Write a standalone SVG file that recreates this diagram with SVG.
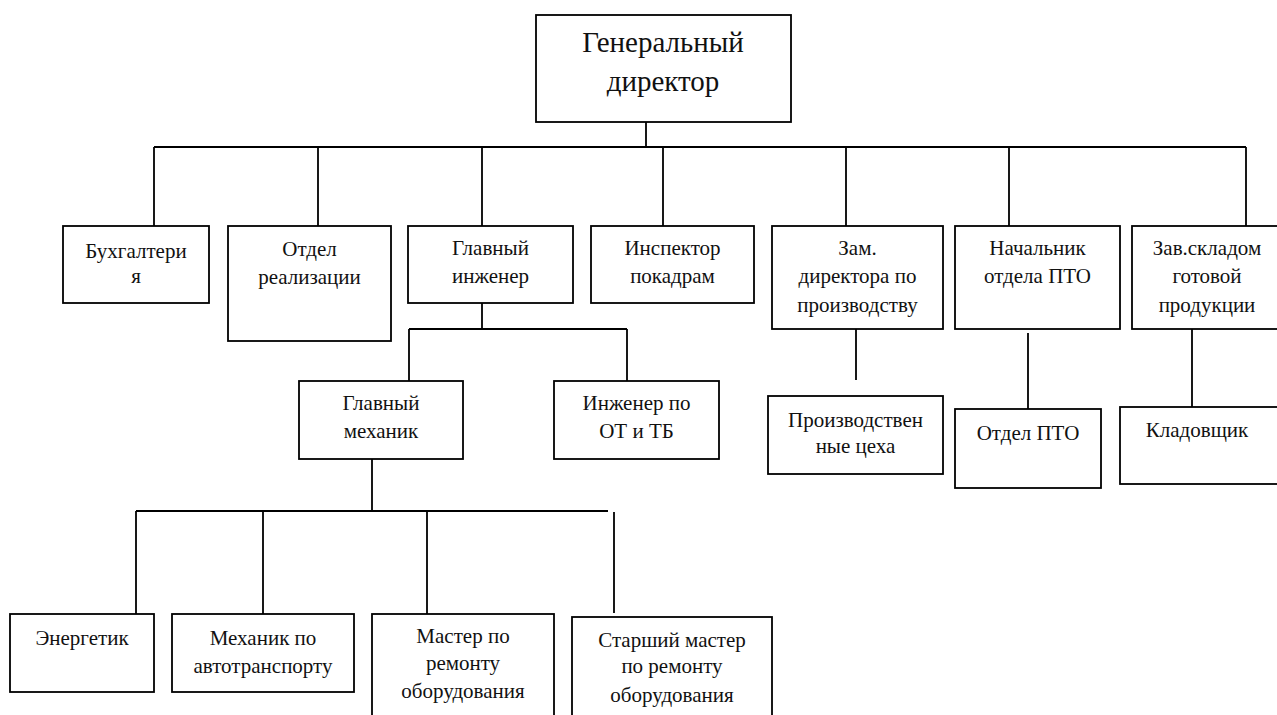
<svg xmlns="http://www.w3.org/2000/svg" width="1277" height="715" viewBox="0 0 1277 715">
<style>
.box{fill:#fff;stroke:#000;stroke-width:1.8}
.ln{stroke:#000;stroke-width:1.8;fill:none}
text{font-family:"Liberation Serif","DejaVu Serif",serif;font-size:21px;fill:#111;text-anchor:middle}
.big{font-size:29px}
</style>
<rect width="1277" height="715" fill="#fff"/>
<g id="connectors">
<path class="ln" d="M646 122V147M154 147H1246M154 147V226M318 147V226M482 147V226M663 147V226M846 147V226M1009 147V226M1246 147V226"/>
<path class="ln" d="M856 329V380M1028 333V409M1192 329V407"/>
<path class="ln" d="M482 303V329M409 329H627M409 329V381M627 329V381"/>
<path class="ln" d="M372 459V511M136 511H608M136 511V614M263 511V614M427 511V614M614 512V613"/>
</g>
<g id="gen-director"><rect class="box" x="536" y="15" width="255" height="107"/><text class="big" x="663" y="52">Генеральный</text><text class="big" x="663" y="91">директор</text></g>
<g id="buh"><rect class="box" x="63" y="226" width="146" height="77"/><text x="136" y="258">Бухгалтери</text><text x="136" y="283">я</text></g>
<g id="otdel-real"><rect class="box" x="228" y="226" width="163" height="115"/><text x="309.5" y="256">Отдел</text><text x="309.5" y="284">реализации</text></g>
<g id="gl-inzh"><rect class="box" x="408" y="226" width="165" height="77"/><text x="490.5" y="255">Главный</text><text x="490.5" y="283">инженер</text></g>
<g id="inspektor"><rect class="box" x="591" y="226" width="163" height="77"/><text x="672.5" y="255">Инспектор</text><text x="672.5" y="283">покадрам</text></g>
<g id="zam-dir"><rect class="box" x="772" y="226" width="171" height="103"/><text x="857.5" y="255">Зам.</text><text x="857.5" y="283">директора по</text><text x="857.5" y="312">производству</text></g>
<g id="nach-pto"><rect class="box" x="955" y="226" width="165" height="103"/><text x="1037.5" y="255">Начальник</text><text x="1037.5" y="283">отдела ПТО</text></g>
<g id="zav-sklad"><rect class="box" x="1132" y="226" width="150" height="103"/><text x="1207" y="255">Зав.складом</text><text x="1207" y="283">готовой</text><text x="1207" y="312">продукции</text></g>
<g id="proizv-ceha"><rect class="box" x="768" y="396" width="175" height="78"/><text x="855.5" y="427">Производствен</text><text x="855.5" y="453">ные цеха</text></g>
<g id="otdel-pto"><rect class="box" x="955" y="409" width="146" height="79"/><text x="1028" y="440">Отдел ПТО</text></g>
<g id="kladovshik"><rect class="box" x="1120" y="407" width="162" height="77"/><text x="1197" y="437">Кладовщик</text></g>
<g id="gl-mehanik"><rect class="box" x="299" y="381" width="164" height="78"/><text x="381" y="410">Главный</text><text x="381" y="438">механик</text></g>
<g id="inzh-ot"><rect class="box" x="554" y="381" width="165" height="78"/><text x="636.5" y="410">Инженер по</text><text x="636.5" y="438">ОТ и ТБ</text></g>
<g id="energetik"><rect class="box" x="10" y="614" width="144" height="78"/><text x="82" y="645">Энергетик</text></g>
<g id="meh-avto"><rect class="box" x="172" y="614" width="182" height="78"/><text x="263" y="645">Механик по</text><text x="263" y="673">автотранспорту</text></g>
<g id="master"><rect class="box" x="372" y="614" width="182" height="120"/><text x="463" y="643">Мастер по</text><text x="463" y="670">ремонту</text><text x="463" y="698">оборудования</text></g>
<g id="st-master"><rect class="box" x="572" y="617" width="200" height="120"/><text x="672" y="647">Старший мастер</text><text x="672" y="673">по ремонту</text><text x="672" y="702">оборудования</text></g>
</svg>
